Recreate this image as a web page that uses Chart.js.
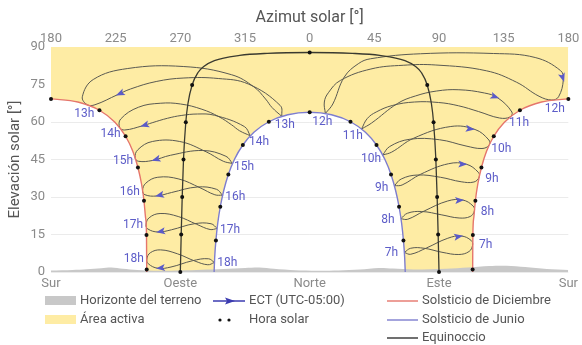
<!DOCTYPE html>
<html lang="es">
<head>
<meta charset="utf-8">
<title>Trayectoria solar</title>
<script src="https://cdn.jsdelivr.net/npm/chart.js@4.4.1/dist/chart.umd.min.js"></script>
<style>
  body { margin: 0; background: #fff; font-family: Roboto, 'Noto Sans', sans-serif; }
  #marco { position: relative; width: 582px; height: 345px; }
  .ley { position: absolute; height: 16px; line-height: 16px; font-size: 13px; color: #555; white-space: nowrap; }
  .ley svg, .ley .caja { display: inline-block; vertical-align: middle; margin-right: 4px; }
  .caja { width: 31px; height: 9px; }
</style>
</head>
<body>
<div id="marco">
  <canvas id="sol" width="582" height="345"></canvas>
  <div class="ley" style="left:45px;top:292px"><span class="caja" style="background:#c8c8c8"></span>Horizonte del terreno</div>
  <div class="ley" style="left:45px;top:311px"><span class="caja" style="background:#feeca4"></span>Área activa</div>
  <div class="ley" style="left:213px;top:292px"><svg width="32" height="10"><line x1="0" y1="5" x2="32" y2="5" stroke="#3b3bb0" stroke-width="1.5"/><path d="M12 1.5 L22 5 L12 8.5 L14 5 Z" fill="#3b3bb0"/></svg>ECT (UTC-05:00)</div>
  <div class="ley" style="left:213px;top:311px"><svg width="32" height="10"><circle cx="7" cy="5" r="1.6" fill="#111"/><circle cx="16" cy="5" r="1.6" fill="#111"/></svg>Hora solar</div>
  <div class="ley" style="left:387px;top:292px"><svg width="31" height="10"><line x1="0" y1="5" x2="31" y2="5" stroke="#e5766c" stroke-width="1.4"/></svg>Solsticio de Diciembre</div>
  <div class="ley" style="left:387px;top:311px"><svg width="31" height="10"><line x1="0" y1="5" x2="31" y2="5" stroke="#7d7dcf" stroke-width="1.4"/></svg>Solsticio de Junio</div>
  <div class="ley" style="left:387px;top:329px"><svg width="31" height="10"><line x1="0" y1="5" x2="31" y2="5" stroke="#333" stroke-width="1.4"/></svg>Equinoccio</div>
</div>
<script>
// Ejes: azimut de 180 (Sur) pasando por 360 (Norte) hasta 540 (Sur otra vez)
const azimutEtiquetas = ['180', '225', '270', '315', '0', '45', '90', '135', '180'];
const rumbos = ['Sur', 'Oeste', 'Norte', 'Este', 'Sur'];

// Solsticios y equinoccio [azimut, elevación]
const decIzq = [[180,69.25],[198.65,68.0],[213.7,64.7],[224.5,59.9],[231.9,54.3],[237.0,48.2],[240.5,41.8],[243.0,35.2],[244.7,28.5],[245.8,21.7],[246.45,14.8],[246.6,0]];
const decDer = [[473.4,0],[473.55,14.8],[474.2,21.7],[475.3,28.5],[477.0,35.2],[479.5,41.8],[483.0,48.2],[488.1,54.3],[495.5,59.9],[506.3,64.7],[521.35,68.0],[540,69.25]];
const junio = [[293.5,0],[293.9,5.8],[294.75,12.6],[296.0,19.4],[297.8,26.1],[300.2,32.6],[303.4,39.0],[307.7,45.1],[313.5,50.8],[321.2,55.9],[331.6,60.1],[344.8,62.9],[360,63.9],[375.2,62.9],[388.4,60.1],[398.8,55.9],[406.5,50.8],[412.3,45.1],[416.6,39.0],[419.8,32.6],[422.2,26.1],[424.0,19.4],[425.25,12.6],[426.1,5.8],[426.5,0]];
const equinoccio = [[270,0],[270.6,15.0],[271.3,30.0],[272.2,45.0],[273.8,59.9],[275.3,67.4],[278.2,74.8],[282.3,79.8],[286.3,82.2],[293.7,84.55],[311.3,86.65],[330.4,87.46],[360,87.8],[389.6,87.46],[408.7,86.65],[426.3,84.55],[433.7,82.2],[437.7,79.8],[441.8,74.8],[444.7,67.4],[446.2,59.9],[447.8,45.0],[448.7,30.0],[449.4,15.0],[450,0]];

// Puntos de hora solar
const horaSolar = [
  [180,69.25],[213.7,64.7],[231.9,54.3],[240.5,41.8],[244.7,28.5],[246.45,14.8],[246.6,1.0],
  [540,69.25],[506.3,64.7],[488.1,54.3],[479.5,41.8],[475.3,28.5],[473.55,14.8],[473.4,1.0],
  [360,63.9],[331.6,60.1],[313.5,50.8],[303.4,39.0],[297.8,26.1],[294.75,12.6],
  [388.4,60.1],[406.5,50.8],[416.6,39.0],[422.2,26.1],[425.25,12.6],
  [360,87.8],[278.2,74.8],[273.8,59.9],[272.2,45.0],[271.3,30.0],[270.6,15.0],[270,0],
  [441.8,74.8],[446.2,59.9],[447.8,45.0],[448.7,30.0],[449.4,15.0],[450,0]
];

// Horizonte del terreno
const horizonte = [[180,0.6],[195,0.8],[205,1.1],[215,1.5],[222,1.8],[230,1.3],[240,0.8],[255,0.5],[270,0.6],[285,0.9],[300,1.2],[315,1.6],[325,1.8],[335,1.3],[350,0.7],[365,0.5],[380,0.6],[395,1.0],[408,1.6],[418,1.4],[432,1.0],[455,1.3],[470,1.8],[485,2.4],[497,2.5],[510,2.0],[525,1.2],[540,0.8]];

// Analemas de hora civil ECT (empiezan el 21 de junio)
const ect07 = [[425.9,7.8],[430.3,7.1],[441.2,9.6],[456.1,13.5],[465.5,14.4],[472.4,12.6],[473.35,10.7],[470.9,8.2],[463.8,7.0],[452.05,7.9],[439.6,9.5],[430.3,9.5]];
const ect08 = [[423.5,21.3],[428.2,21.1],[439.7,24.4],[456.0,28.4],[466.45,28.8],[473.7,26.4],[474.6,24.4],[471.7,22.2],[464.0,21.6],[451.5,22.9],[438.0,24.2],[428.0,23.5]];
const ect09 = [[418.95,34.5],[424.3,34.8],[437.2,39.1],[456.5,43.3],[469.1,43.1],[477.3,39.9],[477.9,37.9],[474.3,36.0],[465.4,36.1],[450.95,37.9],[435.1,38.8],[423.7,37.2]];
const ect10 = [[410.8,46.8],[417.05,47.95],[432.3,53.5],[458.2,58.2],[475.1,57.0],[484.7,52.8],[484.85,50.7],[479.9,49.4],[468.8,50.4],[450.4,52.9],[429.7,53.1],[415.7,50.2]];
const ect11 = [[396.1,57.2],[403.1,59.6],[421.1,67.4],[433.5,70.4],[448.4,72.4],[463.8,72.9],[481.6,71.6],[490.8,69.7],[500.7,64.0],[499.4,62.0],[492.1,61.6],[477.4,64.2],[463.5,66.5],[449.7,67.8],[432.9,68.0],[417.5,66.6],[406.3,64.0],[400.1,61.4]];
const ect12 = [[370.9,63.4],[376.1,67.2],[384.1,78.0],[393.8,83.3],[402.4,85.3],[437.1,87.3],[487.8,87.4],[516.9,85.8],[534.5,80.6],[536.5,77.0],[533.2,70.1],[528.5,68.8],[519.6,70.3],[504.0,75.9],[482.9,80.5],[447.8,82.8],[425.1,82.7],[402.6,81.2],[381.3,76.6],[373.0,71.7],[370.2,68.0]];
const ect13 = [[340.7,62.2],[339.5,66.6],[317.3,75.2],[296.4,77.4],[272.5,77.6],[253.2,76.2],[235.3,73.2],[226.2,70.9],[210.6,66.9],[205.2,66.9],[201.8,70.1],[209.4,77.0],[233.4,81.4],[272.0,82.2],[305.7,78.9],[321.3,74.0],[329.3,69.2],[333.8,65.8]];
const ect14 = [[318.7,54.5],[314.5,58.2],[293.7,62.7],[281.9,63.2],[270.6,62.6],[261.1,61.5],[250.4,59.7],[243.8,58.5],[231.3,56.8],[227.8,57.8],[228.5,61.2],[240.8,65.9],[256.0,67.5],[270.2,67.2],[285.0,65.1],[296.9,62.1],[305.6,58.9],[311.2,56.5]];
const ect15 = [[306.3,43.4],[301.7,46.3],[285.6,48.6],[263.2,46.7],[250.5,44.6],[240.8,44.3],[238.5,45.7],[240.4,48.9],[250.5,52.2],[269.6,52.2],[287.9,48.1],[299.9,44.3]];
const ect16 = [[299.4,30.7],[295.1,33.1],[281.8,34.0],[263.9,31.8],[253.4,30.4],[245.4,30.9],[243.7,32.5],[245.9,35.5],[254.3,37.9],[269.0,37.2],[283.7,33.7],[294.0,30.9]];
const ect17 = [[295.6,17.4],[291.4,19.3],[279.65,19.3],[263.9,16.9],[254.4,16.0],[247.4,17.2],[246.1,18.9],[248.3,21.7],[255.9,23.4],[268.5,22.2],[281.3,19.1],[290.7,17.0]];
const ect18 = [[293.7,3.8],[289.6,5.3],[278.4,4.5],[263.5,2.0],[254.35,1.5],[247.7,3.3],[246.7,5.2],[249.1,7.7],[256.25,8.85],[267.9,7.3],[280.05,4.4],[289.1,2.9]];

const horas = ['7h', '8h', '9h', '10h', '11h', '12h', '13h', '14h', '15h', '16h', '17h', '18h'];
const analemas = [ect07, ect08, ect09, ect10, ect11, ect12, ect13, ect14, ect15, ect16, ect17, ect18];
// índice del 5 de noviembre (flecha) y del 21 de diciembre (extremo sur)
const idxNov = [4, 4, 4, 4, 7, 9, 7, 7, 4, 4, 4, 4];
const idxDic = [6, 6, 6, 6, 9, 11, 9, 9, 6, 6, 6, 6];

const xy = p => ({ x: p[0], y: p[1] });

const datasets = [];
datasets.push({ data: [...decIzq, ...junio, ...decDer].map(xy), fill: 'end', backgroundColor: '#feeca4',
  borderWidth: 0, pointRadius: 0, cubicInterpolationMode: 'monotone', order: 10 });
datasets.push({ data: horizonte.map(xy), fill: 'origin', backgroundColor: '#c8c8c8',
  borderWidth: 0, pointRadius: 0, tension: 0.3, order: 9 });
analemas.forEach(pts => {
  datasets.push({ data: [...pts, pts[0]].map(xy), borderColor: '#5a5a52', borderWidth: 1,
    pointRadius: 0, tension: 0.4, fill: false, order: 5 });
});
[decIzq, decDer].forEach(c => {
  datasets.push({ data: c.map(xy), borderColor: '#e5766c', borderWidth: 1.4, pointRadius: 0,
    cubicInterpolationMode: 'monotone', fill: false, order: 3 });
});
datasets.push({ data: junio.map(xy), borderColor: '#7d7dcf', borderWidth: 1.4, pointRadius: 0,
  cubicInterpolationMode: 'monotone', fill: false, order: 3 });
datasets.push({ data: equinoccio.map(xy), borderColor: '#3a3a30', borderWidth: 1.3, pointRadius: 0,
  cubicInterpolationMode: 'monotone', fill: false, order: 2 });
datasets.push({ data: horaSolar.map(xy), showLine: false, pointRadius: 2, pointBackgroundColor: '#111',
  pointBorderWidth: 0, clip: false, order: 1 });

// normal de una curva cerca de un punto, orientada hacia ref
function normal(curva, tip, ref, sx, sy) {
  const pts = curva.map(p => [sx.getPixelForValue(p[0]), sy.getPixelForValue(p[1])]);
  let best = 0, dmin = Infinity;
  pts.forEach((p, i) => {
    const d = Math.hypot(p[0] - tip[0], p[1] - tip[1]);
    if (d < dmin) { dmin = d; best = i; }
  });
  const a = pts[Math.max(best - 1, 0)], b = pts[Math.min(best + 1, pts.length - 1)];
  let nx = -(b[1] - a[1]), ny = b[0] - a[0];
  const len = Math.hypot(nx, ny) || 1;
  nx /= len; ny /= len;
  if ((ref[0] - tip[0]) * nx + (ref[1] - tip[1]) * ny < 0) { nx = -nx; ny = -ny; }
  return [nx, ny];
}

// flechas ECT y etiquetas de hora
const extras = {
  id: 'extras',
  afterDatasetsDraw(chart) {
    const ctx = chart.ctx, sx = chart.scales.x, sy = chart.scales.y;
    const px = p => [sx.getPixelForValue(p[0]), sy.getPixelForValue(p[1])];
    ctx.save();
    analemas.forEach((pts, i) => {
      const a = px(pts[idxNov[i] - 1]), b = px(pts[idxNov[i]]);
      const x = a[0] + 0.8 * (b[0] - a[0]), y = a[1] + 0.8 * (b[1] - a[1]);
      ctx.save();
      ctx.translate(x, y);
      ctx.rotate(Math.atan2(b[1] - a[1], b[0] - a[0]));
      ctx.beginPath();
      ctx.moveTo(4.5, 0); ctx.lineTo(-4.5, -3.5); ctx.lineTo(-2.5, 0); ctx.lineTo(-4.5, 3.5);
      ctx.closePath();
      ctx.fillStyle = '#5b5bc8';
      ctx.fill();
      ctx.restore();
    });
    ctx.font = '12px Roboto, sans-serif';
    ctx.fillStyle = '#5c5cc8';
    ctx.textAlign = 'center';
    ctx.textBaseline = 'middle';
    analemas.forEach((pts, i) => {
      const manana = pts[0][0] > 360;
      const azul = px(pts[0]);
      const rojo = px(pts[idxDic[i]]);
      const n1 = normal(junio, azul, px([360, 0]), sx, sy);
      const n2 = normal(manana ? decDer : decIzq, rojo, px([manana ? 540 : 180, 0]), sx, sy);
      ctx.fillText(horas[i], azul[0] + n1[0] * 13, azul[1] + n1[1] * 9);
      ctx.fillText(horas[i], rojo[0] + n2[0] * 13, rojo[1] + n2[1] * 9);
    });
    ctx.restore();
  }
};

Chart.defaults.font.family = "Roboto, 'Noto Sans', sans-serif";

new Chart(document.getElementById('sol'), {
  type: 'line',
  data: { datasets },
  options: {
    responsive: false,
    animation: false,
    events: [],
    layout: { padding: { left: 0, right: 10, top: 0, bottom: 51 } },
    plugins: { legend: { display: false }, tooltip: { enabled: false } },
    scales: {
      x: {
        type: 'linear', position: 'bottom', min: 180, max: 540,
        afterFit: s => { s.height = 22; },
        ticks: { stepSize: 90, padding: 4, color: '#8a8a8a', font: { size: 13 }, autoSkip: false, maxRotation: 0,
          callback: v => rumbos[(v - 180) / 90] },
        grid: { display: false, drawTicks: false },
        border: { display: false }
      },
      x2: {
        type: 'linear', position: 'top', min: 180, max: 540,
        afterFit: s => { s.height = 47; },
        ticks: { stepSize: 45, padding: 0, color: '#8a8a8a', font: { size: 13 }, autoSkip: false, maxRotation: 0,
          callback: v => azimutEtiquetas[(v - 180) / 45] },
        title: { display: true, text: 'Azimut solar [°]', color: '#555', font: { size: 16 }, padding: { top: 8, bottom: 0 } },
        grid: { display: false, drawTicks: false },
        border: { display: false }
      },
      y: {
        min: 0, max: 90,
        afterFit: s => { s.width = 51; },
        ticks: { stepSize: 15, padding: 6, color: '#8a8a8a', font: { size: 13 } },
        title: { display: true, text: 'Elevación solar [°]', color: '#555', font: { size: 15 }, padding: { top: 6, bottom: 0 } },
        grid: { color: 'rgba(0,0,0,0.08)', drawTicks: false },
        border: { display: false },
        z: 1
      }
    }
  },
  plugins: [extras]
});
</script>
</body>
</html>
